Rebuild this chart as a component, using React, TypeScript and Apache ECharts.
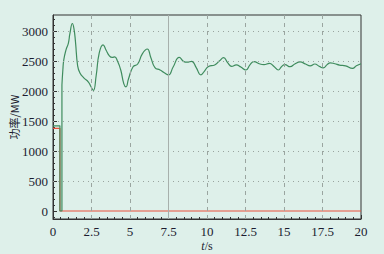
import React, { useEffect, useRef } from "react";
import * as echarts from "echarts";

const redLine: [number, number][] = [
  [0, 1378], [0.45, 1378], [0.45, 0], [20, 0],
];

const greenStep: [number, number][] = [
  [0, 1420], [0.45, 1420], [0.45, 0], [0.58, 0], [0.58, 2100],
];

const greenWave: [number, number][] = [
  [0.58, 2100], [0.64, 2350], [0.7, 2520], [0.85, 2690], [1.0, 2800], [1.1, 2960],
  [1.26, 3125], [1.36, 3040], [1.46, 2820], [1.6, 2420], [1.75, 2300], [2.0, 2220],
  [2.3, 2150], [2.45, 2080], [2.62, 2010], [2.8, 2250], [3.0, 2630], [3.25, 2770],
  [3.45, 2680], [3.65, 2590], [3.85, 2560], [4.0, 2570], [4.2, 2490], [4.4, 2350],
  [4.6, 2120], [4.74, 2070], [4.9, 2200], [5.2, 2405], [5.5, 2450], [5.8, 2620],
  [6.12, 2700], [6.35, 2560], [6.62, 2390], [6.95, 2350], [7.2, 2310], [7.5, 2270],
  [7.8, 2400], [8.2, 2560], [8.5, 2490], [8.7, 2480], [9.0, 2495], [9.3, 2390],
  [9.6, 2270], [9.8, 2320], [10.1, 2410], [10.5, 2435], [10.8, 2500], [11.08, 2555],
  [11.35, 2470], [11.6, 2410], [11.9, 2435], [12.2, 2400], [12.52, 2350], [12.8, 2440],
  [13.05, 2490], [13.44, 2450], [13.7, 2440], [14.05, 2460], [14.35, 2410], [14.63, 2350],
  [14.85, 2410], [15.06, 2440], [15.4, 2405], [15.7, 2450], [16.04, 2485], [16.4, 2450],
  [16.7, 2420], [17.0, 2450], [17.3, 2410], [17.55, 2385], [17.8, 2440], [18.0, 2470],
  [18.3, 2455], [18.6, 2433], [19.0, 2420], [19.45, 2378], [19.7, 2420], [20, 2455],
];

const yTickValues = [0, 500, 1000, 1500, 2000, 2500, 3000];
const yMinorTickValues = [
  -100, 0, 100, 200, 300, 400, 500, 600, 700, 800, 900, 1000, 1100, 1200, 1300, 1400,
  1500, 1600, 1700, 1800, 1900, 2000, 2100, 2200, 2300, 2400, 2500, 2600, 2700, 2800,
  2900, 3000, 3100, 3200,
];
const hGridValues = [500, 1000, 1500, 2000, 2500, 3000];
const vDashedValues = [2.5, 5, 10, 12.5, 15, 17.5];
const vSolidValues = [7.5];

const BG = "#def0ea";
const FONT = "Liberation Serif";
const TXT = "#1c1c30";

export default function App() {
  const ref = useRef<HTMLDivElement>(null);
  useEffect(() => {
    if (!ref.current) return;
    const chart = echarts.init(ref.current, undefined, { renderer: "svg" });
    const yMin = -133;
    const yMax = 3267;
    chart.setOption({
      animation: false,
      backgroundColor: BG,
      textStyle: { fontFamily: FONT },
      grid: {
        left: 53, right: 23, top: 15, bottom: 35,
        outerBoundsMode: "none", containLabel: false,
        show: true, borderColor: "#333", borderWidth: 1, backgroundColor: "transparent",
      },
      xAxis: {
        type: "value", min: 0, max: 20, interval: 2.5,
        name: "{i|t}/s", nameLocation: "middle", nameGap: 21, nameMoveOverlap: false,
        nameTextStyle: {
          fontFamily: FONT, fontSize: 12, color: TXT,
          rich: { i: { fontStyle: "italic", fontFamily: FONT, fontSize: 12, color: TXT } },
        },
        axisLine: { show: true, onZero: false, lineStyle: { color: "#333", width: 1 } },
        axisTick: { show: true, inside: true, length: 4, lineStyle: { color: "#333" } },
        minorTick: { show: true, splitNumber: 5, length: 2, lineStyle: { color: "#333" } },
        axisLabel: { fontFamily: FONT, fontSize: 13, color: TXT, margin: 6, formatter: (v: number) => String(v) },
        splitLine: { show: false },
      },
      yAxis: [
        {
          type: "value", min: yMin, max: yMax,
          name: "功率/MW", nameLocation: "middle", nameGap: 34, nameRotate: 90, nameMoveOverlap: false,
          nameTextStyle: { fontFamily: "Noto Sans CJK SC", fontSize: 11, color: TXT },
          axisLine: { show: true, lineStyle: { color: "#333", width: 1 } },
          axisTick: { show: true, inside: true, length: 4, customValues: yTickValues, lineStyle: { color: "#333" } },
          axisLabel: {
            fontFamily: FONT, fontSize: 13, color: TXT, margin: 5, customValues: yTickValues,
            formatter: (v: number) => String(v),
          },
          splitLine: { show: false },
        },
        {
          type: "value", min: yMin, max: yMax, position: "left", offset: 0,
          axisLine: { show: false },
          axisTick: { show: true, inside: true, length: 2, customValues: yMinorTickValues, lineStyle: { color: "#333" } },
          axisLabel: { show: false },
          splitLine: { show: false },
        },
      ],
      series: [
        {
          type: "line", data: [], silent: true,
          markLine: {
            silent: true, symbol: "none", label: { show: false },
            data: [
              ...hGridValues.map((v) => ({ yAxis: v, lineStyle: { type: [1, 4], color: "#9aa5a0", width: 1 } })),
              ...vDashedValues.map((v) => ({ xAxis: v, lineStyle: { type: [4, 4], color: "#9aa5a0", width: 1 } })),
              ...vSolidValues.map((v) => ({ xAxis: v, lineStyle: { type: "solid", color: "#a7b0ac", width: 1 } })),
            ],
          },
        },
        {
          type: "line", data: redLine, showSymbol: false,
          lineStyle: { color: "#e8503a", width: 1.2 },
        },
        {
          type: "line", data: greenStep, showSymbol: false,
          lineStyle: { color: "#3f8c5e", width: 1.2 },
        },
        {
          type: "line", data: greenWave, showSymbol: false, smooth: 0.5,
          lineStyle: { color: "#3f8c5e", width: 1.2 },
        },
      ],
    });
    return () => chart.dispose();
  }, []);
  return (
    <div
      ref={ref}
      style={{ position: "fixed", left: 0, top: 0, width: 384, height: 254, background: BG }}
    />
  );
}
